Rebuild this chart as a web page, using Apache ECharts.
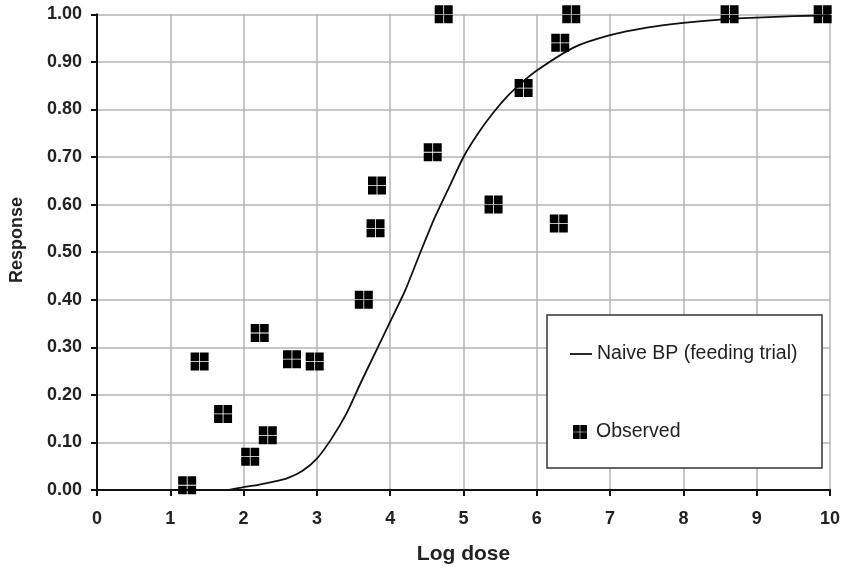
<!DOCTYPE html>
<html>
<head>
<meta charset="utf-8">
<script src="https://cdn.jsdelivr.net/npm/echarts@6/dist/echarts.min.js"></script>
<style>html,body{margin:0;padding:0;background:#fff;}#c{width:843px;height:569px;}</style>
</head>
<body>
<div id="c"></div>
<script>
// Observed data points
var obsX = [1.23, 1.40, 1.72, 2.09, 2.22, 2.33, 2.66, 2.97, 3.64, 3.80, 3.82, 4.58, 4.73, 5.41, 5.82, 6.30, 6.32, 6.47, 8.63, 9.90];
var obsY = [0.01, 0.27, 0.16, 0.07, 0.33, 0.115, 0.275, 0.27, 0.40, 0.55, 0.64, 0.71, 1.00, 0.60, 0.845, 0.56, 0.94, 1.00, 1.00, 1.00];
// Fitted curve (Naive BP feeding trial)
var curveX = [1.8, 2.0, 2.2, 2.4, 2.6, 2.8, 3.0, 3.2, 3.4, 3.6, 3.8, 4.0, 4.2, 4.4, 4.6, 4.8, 5.0, 5.2, 5.4, 5.6, 5.8, 6.0, 6.5, 7.0, 7.5, 8.0, 8.5, 9.0, 9.5, 10.0];
var curveY = [0.000, 0.006, 0.011, 0.017, 0.025, 0.040, 0.066, 0.108, 0.160, 0.226, 0.290, 0.354, 0.418, 0.495, 0.570, 0.635, 0.700, 0.750, 0.792, 0.828, 0.857, 0.882, 0.930, 0.956, 0.972, 0.982, 0.989, 0.993, 0.996, 0.998];
var lineName = 'Naive BP (feeding trial)';
var obsName = 'Observed';
var xTitle = 'Log dose';
var yTitle = 'Response';

var marker = 'path://M0,0H8.6V8.6H0Z M9.4,0H18V8.6H9.4Z M0,9.4H8.6V18H0Z M9.4,9.4H18V18H9.4Z';
var FONT = '"Liberation Sans", Arial, sans-serif';

var chart = echarts.init(document.getElementById('c'), null, {renderer: 'canvas'});
chart.setOption({
  animation: false,
  backgroundColor: '#fff',
  textStyle: {fontFamily: FONT},
  grid: {left: 97, right: 13, top: 14.3, bottom: 79, containLabel: false, outerBoundsMode: 'none'},
  xAxis: {
    type: 'value', min: 0, max: 10, interval: 1,
    name: xTitle, nameLocation: 'middle', nameGap: 54,
    nameTextStyle: {fontFamily: FONT, fontWeight: 'bold', fontSize: 21, color: '#222'},
    axisLine: {show: true, onZero: false, lineStyle: {color: '#111', width: 2}},
    axisTick: {show: true, length: 6, lineStyle: {color: '#111', width: 2}},
    axisLabel: {margin: 20, fontFamily: FONT, fontWeight: 'bold', fontSize: 18, color: '#222'},
    splitLine: {show: true, lineStyle: {color: '#b4b4b4', width: 1.5}}
  },
  yAxis: {
    type: 'value', min: 0, max: 1, interval: 0.1,
    axisLine: {show: true, onZero: false, lineStyle: {color: '#111', width: 2}},
    axisTick: {show: true, length: 6, lineStyle: {color: '#111', width: 2}},
    axisLabel: {margin: 15, fontFamily: FONT, fontWeight: 'bold', fontSize: 18, color: '#222',
      formatter: function (v) { return v.toFixed(2); }},
    splitLine: {show: true, lineStyle: {color: '#b4b4b4', width: 1.5}}
  },
  graphic: [
    {type: 'rect', z: 3, shape: {x: 547, y: 315, width: 275, height: 153},
     style: {fill: '#fff', stroke: '#333', lineWidth: 1.5}},
    {type: 'text', z: 3, x: 17, y: 240, rotation: Math.PI / 2,
     style: {text: yTitle, fontFamily: FONT, fontWeight: 'bold', fontSize: 18, fill: '#222',
       align: 'center', verticalAlign: 'middle'}}
  ],
  legend: [
    {data: [{name: lineName, icon: 'rect'}], left: 570, top: 344, z: 5, padding: 0,
     itemWidth: 22, itemHeight: 1.8, orient: 'vertical',
     textStyle: {fontFamily: FONT, fontSize: 19.5, color: '#222'}},
    {data: [{name: obsName, icon: marker}], left: 573, top: 422, z: 5, padding: 0,
     itemWidth: 14, itemHeight: 14, orient: 'vertical',
     textStyle: {fontFamily: FONT, fontSize: 19.5, color: '#222', padding: [0, 0, 0, 4]}}
  ],
  series: [
    {name: lineName, type: 'line', showSymbol: false, symbol: 'none', smooth: 0.25,
     z: 2, clip: false, color: '#111',
     lineStyle: {color: '#111', width: 1.8},
     data: curveX.map(function (x, i) { return [x, curveY[i]]; })},
    {name: obsName, type: 'scatter', symbol: marker, symbolSize: 18, clip: false, z: 4,
     itemStyle: {color: '#000', opacity: 1},
     data: obsX.map(function (x, i) { return [x, obsY[i]]; })}
  ]
});
</script>
</body>
</html>
